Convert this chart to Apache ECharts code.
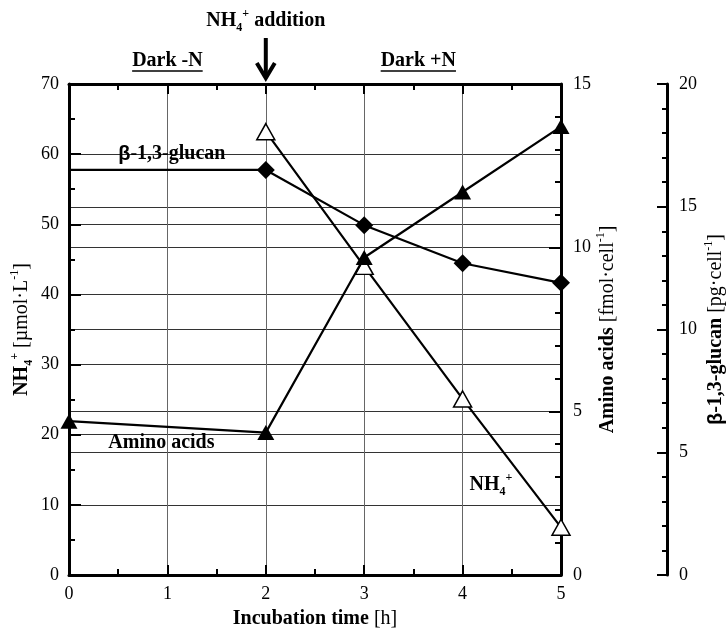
<!DOCTYPE html>
<html>
<head>
<meta charset="utf-8">
<script src="https://cdn.jsdelivr.net/npm/echarts@6/dist/echarts.min.js"></script>
<style>
  html, body { margin: 0; padding: 0; background: #fff; }
  #chart { width: 728px; height: 634px; }
</style>
</head>
<body>
<div id="chart"></div>
<script>
// Incubation time points [h] and measured values
const hoursNH4 = [2, 3, 4, 5];
const nh4 = [63.2, 44, 25.1, 6.8];                 // NH4+ [µmol·L-1]
const hoursGlucan = [0, 2, 3, 4, 5];
const glucan = [16.5, 16.5, 14.25, 12.7, 11.9];    // β-1,3-glucan [pg·cell-1]
const hoursAmino = [0, 2, 3, 4, 5];
const aminoAcids = [4.7, 4.35, 9.7, 11.7, 13.7];   // amino acids [fmol·cell-1]

// Axis ranges
const timeRange = [0, 5];
const nh4Range = [0, 70];
const aminoRange = [0, 15];
const glucanRange = [0, 20];

const SERIF = '"Liberation Serif", "Times New Roman", serif';
const SANS = '"Liberation Sans", Arial, sans-serif';

function richStyles(size) {
  const lh = Math.round(size * 1.3);
  const small = Math.round(size * 0.62);
  return {
    b: { fontFamily: SERIF, fontWeight: 'bold', fontSize: size, lineHeight: lh, color: '#000' },
    n: { fontFamily: SERIF, fontWeight: 'normal', fontSize: size, lineHeight: lh, color: '#000' },
    gk: { fontFamily: SANS, fontWeight: 'bold', fontSize: size, lineHeight: lh, color: '#000' },
    bsub: { fontFamily: SERIF, fontWeight: 'bold', fontSize: small, lineHeight: small, verticalAlign: 'bottom', color: '#000' },
    bsup: { fontFamily: SERIF, fontWeight: 'bold', fontSize: small, lineHeight: small, verticalAlign: 'top', color: '#000' },
    nsup: { fontFamily: SERIF, fontWeight: 'normal', fontSize: small, lineHeight: small, verticalAlign: 'top', color: '#000' }
  };
}
const R = richStyles(20);

const black = '#000';
const axisLine = { show: true, onZero: false, lineStyle: { color: black, width: 3 } };
const tickLabel = { fontFamily: SERIF, fontSize: 18, color: black };

function timeAxis(position, withLabels) {
  return {
    type: 'value', position: position,
    min: timeRange[0], max: timeRange[1], interval: 1,
    axisLine: axisLine,
    axisTick: { show: true, inside: true, length: 10, lineStyle: { color: black, width: 2 } },
    minorTick: { show: true, splitNumber: 2, length: 6, lineStyle: { color: black, width: 2 } },
    axisLabel: Object.assign({ show: withLabels, margin: 10 }, tickLabel),
    splitLine: { show: withLabels, lineStyle: { color: '#666', width: 1 } },
    name: withLabels ? '{b|Incubation time }{n|[h]}' : '',
    nameLocation: 'middle', nameGap: 31, nameMoveOverlap: false,
    nameTextStyle: { rich: R }
  };
}

const option = {
  animation: false,
  backgroundColor: '#fff',
  grid: { left: 69, right: 167, top: 84, bottom: 59, containLabel: false, outerBoundsMode: 'none' },
  xAxis: [timeAxis('bottom', true), timeAxis('top', false)],
  yAxis: [
    {
      type: 'value', position: 'left',
      min: nh4Range[0], max: nh4Range[1], interval: 10,
      axisLine: axisLine,
      axisTick: { show: true, inside: true, length: 12, lineStyle: { color: black, width: 2 } },
      minorTick: { show: true, splitNumber: 2, length: 6, lineStyle: { color: black, width: 2 } },
      axisLabel: Object.assign({ margin: 10 }, tickLabel),
      splitLine: { show: true, lineStyle: { color: '#333', width: 1 } },
      name: '{b|NH}{bsub|4}{bsup|+}{n| [µmol·L}{nsup|-1}{n|]}',
      nameLocation: 'middle', nameGap: 34, nameMoveOverlap: false,
      nameTextStyle: { rich: R }
    },
    {
      type: 'value', position: 'right',
      min: aminoRange[0], max: aminoRange[1], interval: 5,
      axisLine: axisLine,
      axisTick: { show: true, inside: true, length: 12, lineStyle: { color: black, width: 2 } },
      minorTick: { show: true, splitNumber: 5, length: 6, lineStyle: { color: black, width: 2 } },
      axisLabel: Object.assign({ margin: 12 }, tickLabel),
      splitLine: { show: true, lineStyle: { color: '#333', width: 1 } },
      name: '{b|Amino acids }{n|[fmol·cell}{nsup|-1}{n|]}',
      nameLocation: 'middle', nameGap: 34, nameMoveOverlap: false,
      nameTextStyle: { rich: R }
    },
    {
      type: 'value', position: 'right', offset: 106,
      min: glucanRange[0], max: glucanRange[1], interval: 5,
      axisLine: axisLine,
      axisTick: { show: true, inside: true, length: 10, lineStyle: { color: black, width: 2 } },
      minorTick: { show: true, splitNumber: 5, length: 5, lineStyle: { color: black, width: 2 } },
      axisLabel: Object.assign({ margin: 12 }, tickLabel),
      splitLine: { show: true, lineStyle: { color: '#333', width: 1 } },
      name: '{gk|β}{b|-1,3-glucan }{n|[pg·cell}{nsup|-1}{n|]}',
      nameLocation: 'middle', nameGap: 36, nameMoveOverlap: false,
      nameTextStyle: { rich: R }
    }
  ],
  series: [
    {
      name: 'NH4+', type: 'line', xAxisIndex: 0, yAxisIndex: 0,
      data: hoursNH4.map((h, i) => [h, nh4[i]]),
      symbol: 'triangle', symbolSize: [18, 16],
      itemStyle: { color: '#fff', borderColor: black, borderWidth: 1.5 },
      lineStyle: { color: black, width: 2.2 },
      clip: false, silent: true, emphasis: { disabled: true }, z: 3
    },
    {
      name: 'β-1,3-glucan', type: 'line', xAxisIndex: 0, yAxisIndex: 2,
      data: hoursGlucan.map((h, i) => i === 0 ? { value: [h, glucan[i]], symbol: 'none' } : [h, glucan[i]]),
      symbol: 'diamond', symbolSize: [18, 18],
      itemStyle: { color: black, borderColor: black, borderWidth: 0 },
      lineStyle: { color: black, width: 2.2 },
      clip: false, silent: true, emphasis: { disabled: true }, z: 4
    },
    {
      name: 'Amino acids', type: 'line', xAxisIndex: 0, yAxisIndex: 1,
      data: hoursAmino.map((h, i) => [h, aminoAcids[i]]),
      symbol: 'triangle', symbolSize: [17, 15],
      itemStyle: { color: black, borderColor: black, borderWidth: 0 },
      lineStyle: { color: black, width: 2.2 },
      clip: false, silent: true, emphasis: { disabled: true }, z: 5
    }
  ]
};

const chart = echarts.init(document.getElementById('chart'), null, { renderer: 'canvas' });
chart.setOption(option);

// Annotations placed in data coordinates of the time / NH4+ axes
const px = (x, y) => chart.convertToPixel({ xAxisIndex: 0, yAxisIndex: 0 }, [x, y]);
const measure = (() => {
  const ctx = document.createElement('canvas').getContext('2d');
  return (txt, font) => { ctx.font = font; return ctx.measureText(txt).width; };
})();

const addX = px(2, 70)[0];
const plotTop = px(0, 70)[1];
const darkFont = 'bold 20px ' + SERIF;
const darkMinusX = px(1.0, 0)[0];
const darkPlusX = px(3.55, 0)[0];
const wMinus = measure('Dark -N', darkFont);
const wPlus = measure('Dark +N', darkFont);

const glucanLabel = px(0.5, 60);
const aminoLabel = px(0.4, 18.8);
const nh4Label = px(4.07, 12.8);

const textEl = (x, y, text, align) => ({
  type: 'text', x: x, y: y, silent: true, z: 100,
  style: { text: text, rich: R, align: align, verticalAlign: 'middle', fill: black,
           font: 'bold 20px ' + SERIF }
});

chart.setOption({
  graphic: [
    textEl(addX, 21, '{b|NH}{bsub|4}{bsup|+}{b| addition}', 'center'),
    textEl(darkMinusX, 61, '{b|Dark -N}', 'center'),
    textEl(darkPlusX, 61, '{b|Dark +N}', 'center'),
    { type: 'line', silent: true, z: 100,
      shape: { x1: darkMinusX - wMinus / 2, y1: 71, x2: darkMinusX + wMinus / 2, y2: 71 },
      style: { stroke: black, lineWidth: 1.5 } },
    { type: 'line', silent: true, z: 100,
      shape: { x1: darkPlusX - wPlus / 2, y1: 71, x2: darkPlusX + wPlus / 2, y2: 71 },
      style: { stroke: black, lineWidth: 1.5 } },
    // arrow marking the NH4+ addition
    { type: 'line', silent: true, z: 100,
      shape: { x1: addX, y1: 38, x2: addX, y2: plotTop - 8 },
      style: { stroke: black, lineWidth: 4 } },
    { type: 'polyline', silent: true, z: 100,
      shape: { points: [[addX - 9, plotTop - 21], [addX, plotTop - 6], [addX + 9, plotTop - 21]] },
      style: { stroke: black, lineWidth: 4, fill: null, lineJoin: 'miter' } },
    textEl(glucanLabel[0], glucanLabel[1], '{gk|β}{b|-1,3-glucan}', 'left'),
    textEl(aminoLabel[0], aminoLabel[1], '{b|Amino acids}', 'left'),
    textEl(nh4Label[0], nh4Label[1], '{b|NH}{bsub|4}{bsup|+}', 'left')
  ]
});
</script>
</body>
</html>
